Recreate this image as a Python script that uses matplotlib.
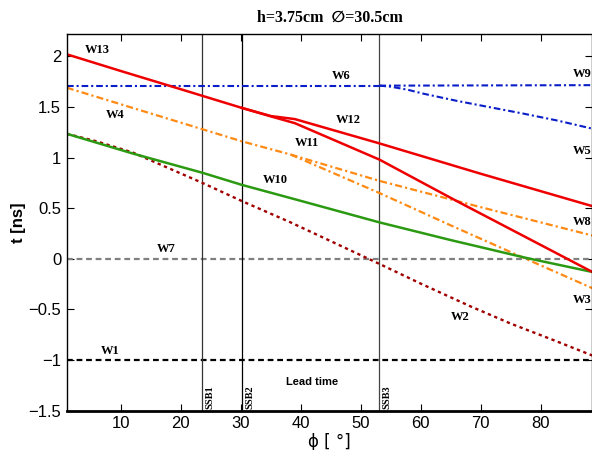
import matplotlib
matplotlib.use("Agg")
import matplotlib.pyplot as plt

# --- data ---
W13_x = [1, 10, 20, 30.2]
W13_y = [2.02, 1.855, 1.675, 1.49]
W12_x = [30.2, 35, 39, 53.1, 70, 88.6]
W12_y = [1.49, 1.41, 1.38, 1.14, 0.84, 0.52]
W11_x = [30.2, 36, 39, 53.1, 66, 88.6]
W11_y = [1.49, 1.39, 1.34, 0.98, 0.57, -0.13]

W4_x = [1, 12, 23.6, 30.2, 38.3]
W4_y = [1.69, 1.49, 1.28, 1.16, 1.03]
W8_x = [38.3, 53.1, 70, 88.6]
W8_y = [1.03, 0.77, 0.51, 0.23]
W3_x = [38.3, 53.1, 65, 77.5, 88.6]
W3_y = [1.03, 0.65, 0.33, 0.0, -0.29]

W6_x = [1, 53.1]
W6_y = [1.71, 1.71]
W9_x = [53.1, 88.6]
W9_y = [1.71, 1.715]
W5_x = [53.1, 55, 57.8, 60.5, 66, 71.7, 77, 82.8, 88.6]
W5_y = [1.71, 1.70, 1.67, 1.63, 1.56, 1.495, 1.435, 1.365, 1.285]

W10_x = [1, 12, 23.6, 30.2, 38.3, 53.1, 65, 77.5, 88.6]
W10_y = [1.235, 1.04, 0.85, 0.73, 0.60, 0.36, 0.185, 0.01, -0.13]

W2_x = [1, 6, 12, 23.6, 30.2, 38.3, 53.1, 60, 68.3, 75, 82, 88.6]
W2_y = [1.235, 1.16, 1.05, 0.75, 0.57, 0.36, -0.05, -0.245, -0.47, -0.64, -0.80, -0.955]

W7_y = 0.0
W1_y = -1.0

SSB_x = [23.6, 30.2, 53.1]
SSB_names = ["SSB1", "SSB2", "SSB3"]

XMIN, XMAX = 1, 88.6
YMIN, YMAX = -1.5, 2.22

RED = "#ee0000"
DARKRED = "#a00000"
ORANGE = "#ff8a14"
BLUE = "#0a1ec8"
GREEN = "#2b9a12"
GRAY = "#808080"

DASHDOT = (0, (3.2, 1.4, 1, 1.4))
DASHED = (0, (2.6, 1.7))
DOTTED = (0, (1.4, 1.5))

fig = plt.figure(figsize=(5.92, 4.5), dpi=100)
ax = fig.add_axes([0.1127, 0.0873, 0.888, 0.8371])

# reference lines
ax.axhline(W7_y, color=GRAY, lw=1.6, ls=DASHED)
ax.axhline(W1_y, color="black", lw=1.6, ls=DASHED)
for sx, col in zip(SSB_x, ["#333333", "black", "#444444"]):
    ax.axvline(sx, color=col, lw=0.9)

# curves
ax.plot(W6_x, W6_y, color=BLUE, lw=1.5, ls=DASHDOT)
ax.plot(W9_x, W9_y, color=BLUE, lw=1.5, ls=DASHDOT)
ax.plot(W5_x, W5_y, color=BLUE, lw=1.5, ls=DASHDOT)
ax.plot(W4_x, W4_y, color=ORANGE, lw=1.6, ls=DASHDOT)
ax.plot(W8_x, W8_y, color=ORANGE, lw=1.6, ls=DASHDOT)
ax.plot(W3_x, W3_y, color=ORANGE, lw=1.6, ls=DASHDOT)
ax.plot(W2_x, W2_y, color=DARKRED, lw=1.7, ls=DOTTED)
ax.plot(W10_x, W10_y, color=GREEN, lw=1.8)
ax.plot(W13_x, W13_y, color=RED, lw=1.8)
ax.plot(W12_x, W12_y, color=RED, lw=1.8)
ax.plot(W11_x, W11_y, color=RED, lw=1.8)

# curve labels
lab = dict(fontfamily="Liberation Serif", fontweight="bold", fontsize=9,
           ha="center", va="center", clip_on=False)
ax.text(6.1, 2.06, "W13", **lab)
ax.text(9.0, 1.425, "W4", **lab)
ax.text(35.8, 0.78, "W10", **lab)
ax.text(46.7, 1.805, "W6", **lab)
ax.text(47.9, 1.37, "W12", **lab)
ax.text(41.0, 1.14, "W11", **lab)
ax.text(66.6, -0.57, "W2", **lab)
ax.text(17.6, 0.10, "W7", **lab)
ax.text(8.2, -0.91, "W1", **lab)
lab_r = dict(lab, ha="left")
ax.text(85.3, 1.83, "W9", **lab_r)
ax.text(85.3, 1.06, "W5", **lab_r)
ax.text(85.3, 0.36, "W8", **lab_r)
ax.text(85.3, -0.41, "W3", **lab_r)

for sx, name in zip(SSB_x, SSB_names):
    ax.text(sx + 0.5, YMIN + 0.02, name, rotation=90, ha="left", va="bottom",
            fontfamily="Liberation Serif", fontweight="bold", fontsize=7.5)
ax.text(41.8, -1.22, "Lead time", ha="center", va="center",
        fontfamily="Liberation Sans", fontweight="bold", fontsize=8)

ax.set_xlim(XMIN, XMAX)
ax.set_ylim(YMIN, YMAX)
ax.set_xticks([10, 20, 30, 40, 50, 60, 70, 80])
ax.set_yticks([-1.5, -1, -0.5, 0, 0.5, 1, 1.5, 2])
ax.set_yticklabels(["\u22121.5", "\u22121", "\u22120.5", "0", "0.5", "1", "1.5", "2"])
ax.tick_params(direction="in", top=True, right=True, length=5, width=0.8,
               labelsize=12, pad=4)
for lbl in ax.get_xticklabels() + ax.get_yticklabels():
    lbl.set_fontfamily("Liberation Sans")
for s in ["left", "top", "right"]:
    ax.spines[s].set_linewidth(1.0)
ax.spines["bottom"].set_linewidth(2.0)

ax.set_ylabel("t [ns]", fontfamily="Liberation Sans", fontweight="bold",
              fontsize=12, labelpad=2)
ax.set_xlabel("\u03d5 [ \u00b0]", fontfamily="DejaVu Sans", fontsize=12, labelpad=1)
ax.set_title("h=3.75cm  \u2205=30.5cm", fontfamily=["Liberation Serif", "DejaVu Sans"],
             fontweight="bold", fontsize=11.5, pad=9)

fig.savefig("out.png", dpi=100)
